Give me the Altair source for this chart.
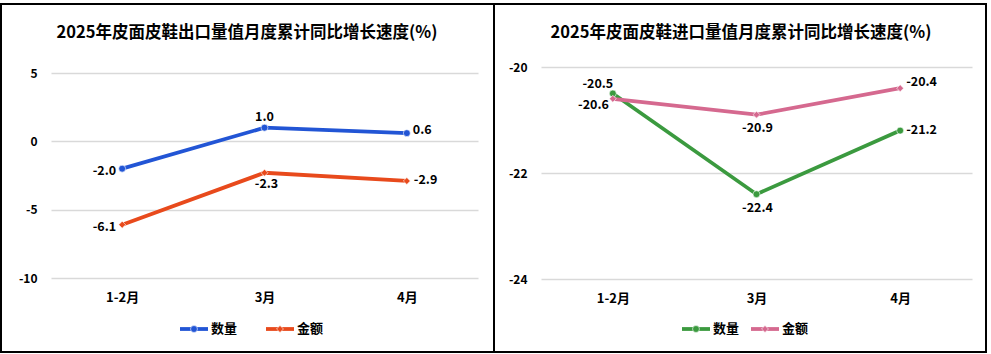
import altair as alt
import pandas as pd

categories = ["1-2月", "3月", "4月"]
series_names = ["数量", "金额"]
export_qty = [-2.0, 1.0, 0.6]
export_val = [-6.1, -2.3, -2.9]
import_qty = [-20.5, -22.4, -21.2]
import_val = [-20.6, -20.9, -20.4]
export_title = "2025年皮面皮鞋出口量值月度累计同比增长速度(%)"
import_title = "2025年皮面皮鞋进口量值月度累计同比增长速度(%)"
export_ticks = [-10, -5, 0, 5]
import_ticks = [-24, -22, -20]

FONT = "Noto Sans CJK SC"
MINUS_FIX = "replace(datum.label, '\u2212', '-')"


def panel(qty, val, colors, ydomain, yticks, width, height, title, title_x,
          label_offsets, frame, legend_x):
    values = qty + val
    df = pd.DataFrame({
        "month": categories * 2,
        "series": [series_names[0]] * 3 + [series_names[1]] * 3,
        "value": values,
        "label": [f"{v:.1f}" for v in values],
    })
    x = alt.X("month:N", sort=categories,
              scale=alt.Scale(type="point", padding=0.5),
              axis=alt.Axis(title=None, labelFont=FONT, labelFontSize=13,
                            labelFontWeight="bold", labelColor="#000",
                            labelPadding=13, ticks=False, domain=False,
                            labelAngle=0, grid=False))
    y = alt.Y("value:Q", scale=alt.Scale(domain=ydomain, nice=False, zero=False),
              axis=alt.Axis(title=None, values=yticks, labelFont=FONT,
                            labelFontSize=12, labelFontWeight="bold",
                            labelColor="#000", labelPadding=14, ticks=False,
                            domain=False, grid=True, gridColor="#d9d9d9",
                            gridWidth=1.5, labelExpr=MINUS_FIX))
    color = alt.Color("series:N", scale=alt.Scale(domain=series_names, range=colors),
                      legend=None)
    shape = alt.Shape("series:N", scale=alt.Scale(domain=series_names,
                                                  range=["circle", "diamond"]),
                      legend=None)
    base = alt.Chart(df)
    one = alt.Data(values=[{"a": 1}])

    fx0, fx1, fy0, fy1 = frame
    frame_layer = alt.Chart(one).mark_rect(filled=False, stroke="black",
                                           strokeWidth=2).encode(
        x=alt.value(fx0), x2=alt.value(fx1), y=alt.value(fy0), y2=alt.value(fy1))

    title_layer = alt.Chart(one).mark_text(
        text=title, font=FONT, fontSize=16.5, fontWeight="bold", color="#000",
        align="center", baseline="middle").encode(
        x=alt.value(title_x), y=alt.value(-34.5))

    line = base.mark_line(strokeWidth=3.8).encode(x=x, y=y, color=color)
    pts = base.mark_point(filled=True, opacity=1, size=48, stroke="white",
                          strokeWidth=0.6).encode(x=x, y=y, color=color, shape=shape)

    layers = [frame_layer, title_layer, line, pts]
    for (s, c), (dx, dy, al) in label_offsets.items():
        t = base.transform_filter(
            (alt.datum.series == s) & (alt.datum.month == c)
        ).mark_text(font=FONT, fontSize=12.5, fontWeight="bold", color="#000",
                    dx=dx, dy=dy, align=al, baseline="middle").encode(
            x=x, y=y, text="label:N")
        layers.append(t)

    ly = 262
    for i, s in enumerate(series_names):
        lx = legend_x[i]
        layers.append(alt.Chart(one).mark_rule(strokeWidth=3.8, color=colors[i]).encode(
            x=alt.value(lx), x2=alt.value(lx + 28), y=alt.value(ly)))
        layers.append(alt.Chart(one).mark_point(
            filled=True, opacity=1, size=48, color=colors[i], stroke="white",
            strokeWidth=0.6, shape=["circle", "diamond"][i]).encode(
            x=alt.value(lx + 14), y=alt.value(ly)))
        layers.append(alt.Chart(one).mark_text(
            text=s, font=FONT, fontSize=13, fontWeight="bold", color="#000",
            align="left", baseline="middle").encode(
            x=alt.value(lx + 31), y=alt.value(ly)))

    return alt.layer(*layers).properties(width=width, height=height)


left_labels = {
    ("数量", "1-2月"): (-6, 2, "right"),
    ("数量", "3月"): (0, -11, "center"),
    ("数量", "4月"): (6, -3, "left"),
    ("金额", "1-2月"): (-6, 2, "right"),
    ("金额", "3月"): (2, 11, "center"),
    ("金额", "4月"): (7, -1, "left"),
}
right_labels = {
    ("数量", "1-2月"): (-15, -10, "center"),
    ("数量", "3月"): (1, 14, "center"),
    ("数量", "4月"): (6, -1, "left"),
    ("金额", "1-2月"): (-4, 6, "right"),
    ("金额", "3月"): (1, 13, "center"),
    ("金额", "4月"): (6, -6, "left"),
}

left = panel(export_qty, export_val, ["#2255d5", "#e84a1c"], [-10, 5.44],
             export_ticks, 427, 211, export_title, 196, left_labels,
             (-50, 443, -63, 285), [129, 215])
right = panel(import_qty, import_val, ["#3b9a3f", "#d5698f"], [-24, -20],
              import_ticks, 431, 212, import_title, 200, right_labels,
              (-47, 445, -63, 285), [141, 210])

chart = alt.hconcat(left, right, spacing=63, bounds="flush").resolve_scale(
    color="independent", shape="independent"
).properties(
    padding={"left": 0, "top": 3, "right": 0, "bottom": 0},
    autosize=alt.AutoSizeParams(type="pad"),
).configure_view(stroke=None)

chart.save("out.html", embed_options={"renderer": "svg", "actions": False})
